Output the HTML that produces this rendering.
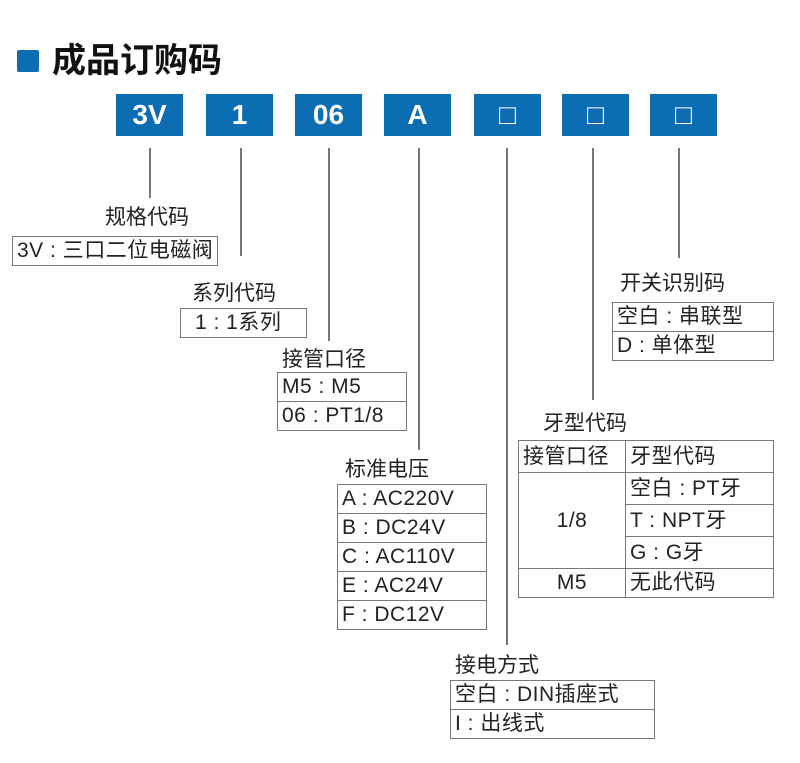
<!DOCTYPE html><html><head><meta charset="utf-8"><style>
body{margin:0;width:800px;height:763px;background:#fff;position:relative;overflow:hidden;font-family:"Liberation Sans","Noto Sans CJK SC",sans-serif;color:#222}
.a{position:absolute}
.b{position:absolute;background:#0d6db3;color:#fff;font-weight:bold;font-size:28px;text-align:center;line-height:42px;height:42px;width:67px;top:94px}
.v{position:absolute;width:1.5px;background:#777}
.l{position:absolute;font-size:21px;line-height:24px;white-space:nowrap}
table{position:absolute;border-collapse:collapse;font-size:21px}
td{border:1.5px solid #777;padding:0 4px;white-space:nowrap;line-height:28px;height:28px;letter-spacing:0.5px}
</style></head><body>
<div class="a" style="left:17px;top:50px;width:22px;height:22px;background:#0d6db3;border-radius:2px"></div>
<div class="l" style="left:52px;top:42px;font-size:34px;line-height:38px;font-weight:bold;color:#111">成品订购码</div>
<div class="b" style="left:116px">3V</div>
<div class="b" style="left:206px">1</div>
<div class="b" style="left:295px">06</div>
<div class="b" style="left:384px">A</div>
<div class="b" style="left:474px;font-weight:normal">□</div>
<div class="b" style="left:562px;font-weight:normal">□</div>
<div class="b" style="left:650px;font-weight:normal">□</div>
<div class="v" style="left:149px;top:148px;height:50px"></div>
<div class="v" style="left:240px;top:148px;height:108px"></div>
<div class="v" style="left:328px;top:148px;height:193px"></div>
<div class="v" style="left:418px;top:148px;height:302px"></div>
<div class="v" style="left:506px;top:148px;height:497px"></div>
<div class="v" style="left:592px;top:148px;height:252px"></div>
<div class="v" style="left:678px;top:148px;height:110px"></div>

<div class="l" style="left:105px;top:206px">规格代码</div>
<table style="left:12px;top:236px;width:205px"><tr><td>3V : 三口二位电磁阀</td></tr></table>
<div class="l" style="left:192px;top:282px">系列代码</div>
<table style="left:180px;top:308px;width:127px"><tr><td style="padding-left:14px">1 : 1系列</td></tr></table>
<div class="l" style="left:282px;top:348px">接管口径</div>
<table style="left:277px;top:372px;width:130px"><tr><td>M5 : M5</td></tr><tr><td>06 : PT1/8</td></tr></table>
<div class="l" style="left:345px;top:458px">标准电压</div>
<table style="left:337px;top:484px;width:150px"><tr><td>A : AC220V</td></tr><tr><td>B : DC24V</td></tr><tr><td>C : AC110V</td></tr><tr><td>E : AC24V</td></tr><tr><td>F : DC12V</td></tr></table>
<div class="l" style="left:543px;top:412px">牙型代码</div>
<table style="left:518px;top:440px;width:256px"><tr><td style="width:98px;height:31px">接管口径</td><td style="height:31px">牙型代码</td></tr>
<tr><td rowspan="3" style="text-align:center">1/8</td><td style="height:31px">空白 : PT牙</td></tr><tr><td style="height:31px">T : NPT牙</td></tr><tr><td style="height:31px">G : G牙</td></tr>
<tr><td style="text-align:center">M5</td><td>无此代码</td></tr></table>
<div class="l" style="left:620px;top:272px">开关识别码</div>
<table style="left:612px;top:302px;width:162px"><tr><td>空白 : 串联型</td></tr><tr><td>D : 单体型</td></tr></table>
<div class="l" style="left:455px;top:654px">接电方式</div>
<table style="left:450px;top:680px;width:205px"><tr><td>空白 : DIN插座式</td></tr><tr><td>I : 出线式</td></tr></table>
</body></html>
